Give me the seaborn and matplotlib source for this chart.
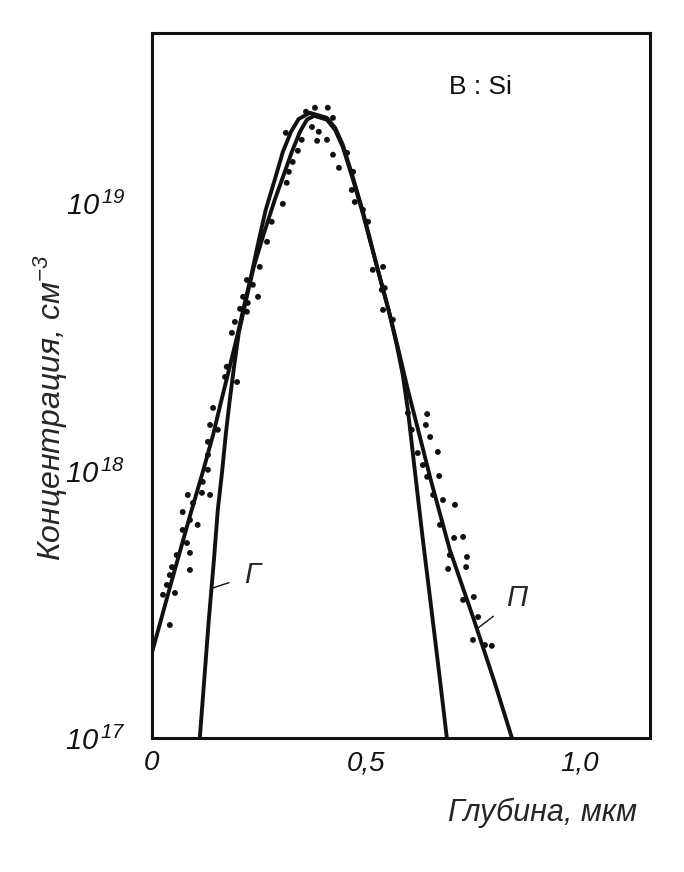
import numpy as np
import pandas as pd
import matplotlib
matplotlib.use('Agg')
import matplotlib.pyplot as plt
from matplotlib.ticker import FixedLocator, NullLocator
import seaborn as sns

# данные (глубина в мкм, lg концентрации в см^-3)
depth_P = [0.000, 0.047, 0.091, 0.119, 0.143, 0.161, 0.180, 0.199, 0.217, 0.234,
           0.250, 0.266, 0.287, 0.306, 0.325, 0.343, 0.369, 0.409, 0.428, 0.446,
           0.470, 0.493, 0.526, 0.554, 0.577, 0.598, 0.619, 0.652, 0.696, 0.750,
           0.801, 0.841]
logc_P = [17.318, 17.592, 17.843, 17.996, 18.135, 18.255, 18.378, 18.502, 18.629, 18.745,
          18.865, 18.978, 19.090, 19.195, 19.270, 19.318, 19.341, 19.322, 19.285, 19.221,
          19.097, 18.970, 18.764, 18.596, 18.446, 18.303, 18.172, 17.963, 17.704, 17.453,
          17.206, 17.000]

depth_G = [0.112, 0.133, 0.145, 0.154, 0.164, 0.173, 0.182, 0.192, 0.203, 0.220,
           0.238, 0.262, 0.287, 0.308, 0.327, 0.346, 0.362, 0.379, 0.409, 0.428,
           0.446, 0.470, 0.493, 0.526, 0.554, 0.572, 0.586, 0.598, 0.614, 0.633,
           0.654, 0.673, 0.689]
logc_G = [17.000, 17.442, 17.667, 17.854, 17.996, 18.142, 18.266, 18.390, 18.517, 18.640,
          18.764, 18.891, 19.015, 19.109, 19.195, 19.270, 19.315, 19.330, 19.315, 19.277,
          19.213, 19.090, 18.963, 18.764, 18.596, 18.472, 18.360, 18.228, 18.004, 17.742,
          17.468, 17.217, 17.000]

depth_exp = [0.411, 0.381, 0.360, 0.423, 0.374, 0.390, 0.386, 0.409, 0.313, 0.350,
             0.341, 0.423, 0.437, 0.329, 0.320, 0.315, 0.306, 0.280, 0.269, 0.456,
             0.470, 0.467, 0.474, 0.493, 0.505, 0.516, 0.540, 0.537, 0.540, 0.563,
             0.252, 0.222, 0.236, 0.248, 0.213, 0.224, 0.206, 0.222, 0.194, 0.187,
             0.175, 0.199, 0.171, 0.143, 0.136, 0.154, 0.131, 0.131, 0.131, 0.119,
             0.117, 0.136, 0.084, 0.096, 0.072, 0.107, 0.089, 0.072, 0.082, 0.058,
             0.089, 0.089, 0.047, 0.042, 0.035, 0.054, 0.026, 0.042, 0.544, 0.598,
             0.643, 0.640, 0.607, 0.650, 0.621, 0.668, 0.633, 0.643, 0.671, 0.657,
             0.680, 0.708, 0.673, 0.706, 0.727, 0.696, 0.736, 0.692, 0.734, 0.727,
             0.752, 0.762, 0.750, 0.778, 0.794]
logc_exp = [19.360, 19.360, 19.345, 19.322, 19.288, 19.270, 19.236, 19.240, 19.266, 19.240,
            19.199, 19.184, 19.135, 19.157, 19.120, 19.079, 19.000, 18.933, 18.858, 19.191,
            19.120, 19.052, 19.007, 18.978, 18.933, 18.753, 18.764, 18.678, 18.603, 18.566,
            18.764, 18.715, 18.697, 18.652, 18.652, 18.629, 18.607, 18.596, 18.558, 18.517,
            18.390, 18.333, 18.352, 18.236, 18.172, 18.154, 18.109, 18.060, 18.004, 17.959,
            17.918, 17.910, 17.910, 17.880, 17.846, 17.798, 17.816, 17.779, 17.730, 17.685,
            17.693, 17.629, 17.640, 17.610, 17.573, 17.543, 17.536, 17.423, 18.685, 18.217,
            18.213, 18.172, 18.154, 18.127, 18.067, 18.071, 18.022, 17.978, 17.981, 17.910,
            17.891, 17.873, 17.798, 17.749, 17.753, 17.685, 17.678, 17.633, 17.640, 17.517,
            17.528, 17.453, 17.367, 17.348, 17.345]

x_ticks = [0.0, 0.5, 1.0]
x_ticklabels = ['0', '0,5', '1,0']
y_ticks = [1e17, 1e18, 1e19]
y_ticklabels = [r'$10^{\,17}$', r'$10^{\,18}$', r'$10^{\,19}$']

sns.set_style('white')
plt.rcParams['font.family'] = ['Liberation Sans', 'DejaVu Sans']
plt.rcParams['mathtext.fontset'] = 'custom'
plt.rcParams['mathtext.rm'] = 'Liberation Sans:italic'
plt.rcParams['mathtext.it'] = 'Liberation Sans:italic'

curve_P = pd.DataFrame({'x': depth_P, 'c': 10 ** np.array(logc_P)})
curve_G = pd.DataFrame({'x': depth_G, 'c': 10 ** np.array(logc_G)})
points = pd.DataFrame({'x': depth_exp, 'c': 10 ** np.array(logc_exp)})

fig = plt.figure(figsize=(6.84, 8.72), dpi=100)
ax = fig.add_axes([0.222, 0.1537, 0.728, 0.8085])

sns.lineplot(data=curve_P, x='x', y='c', ax=ax, color='#111111', lw=2.8, sort=False, estimator=None)
sns.lineplot(data=curve_G, x='x', y='c', ax=ax, color='#111111', lw=2.8, sort=False, estimator=None)
sns.scatterplot(data=points, x='x', y='c', ax=ax, color='#111111', s=18, edgecolor='none')

ax.set_yscale('log')
ax.set_xlim(0, 1.163)
ax.set_ylim(1e17, 10 ** 19.64)

ax.xaxis.set_major_locator(FixedLocator(x_ticks))
ax.set_xticklabels(x_ticklabels)
ax.yaxis.set_major_locator(FixedLocator(y_ticks))
ax.yaxis.set_minor_locator(NullLocator())
ax.set_yticklabels(y_ticklabels)
ax.tick_params(axis='x', direction='in', length=11, width=1.4, pad=9, labelsize=20, colors='#111111')
ax.tick_params(axis='y', direction='in', length=15, width=1.4, pad=19, labelsize=21, colors='#111111')
for lbl in ax.get_xticklabels():
    lbl.set_fontstyle('italic')

for sp in ax.spines.values():
    sp.set_visible(True)
    sp.set_color('#111111')
    sp.set_linewidth(2.2)

ax.set_xlabel('Глубина, мкм', fontsize=22, fontstyle='italic', loc='right')
ax.xaxis.set_label_coords(0.974, -0.085)
ax.set_ylabel('Концентрация, см$^{-3}$', fontsize=23, fontstyle='italic')
ax.yaxis.set_label_coords(-0.165, 0.468)

ax.text(0.659, 0.923, 'B : Si', transform=ax.transAxes, fontsize=19,
        ha='center', va='center', color='#111111')

ax.annotate('Г', xy=(0.143, 10 ** 17.562), xytext=(0.234, 10 ** 17.61),
            fontsize=21, fontstyle='italic', ha='center', va='center',
            arrowprops=dict(arrowstyle='-', color='#111111', lw=1.0, shrinkA=9, shrinkB=0))
ax.annotate('П', xy=(0.762, 10 ** 17.412), xytext=(0.853, 10 ** 17.524),
            fontsize=21, fontstyle='italic', ha='center', va='center',
            arrowprops=dict(arrowstyle='-', color='#111111', lw=1.0, shrinkA=9, shrinkB=0))

fig.savefig('out.png', dpi=100, facecolor='white')
